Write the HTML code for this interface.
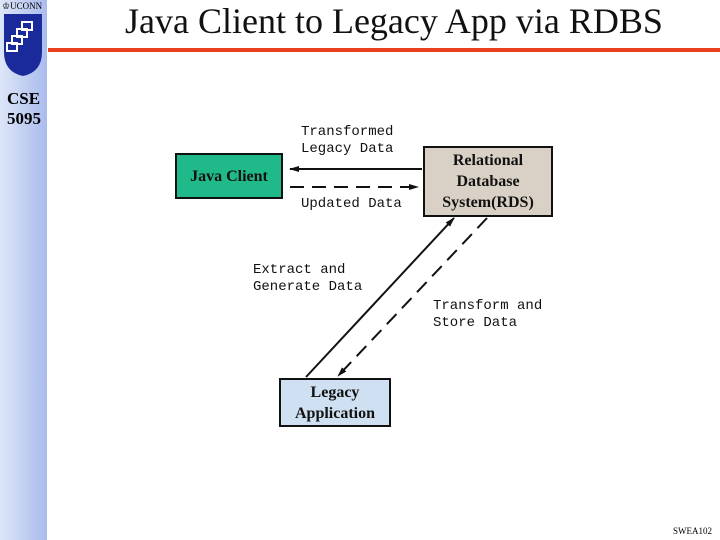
<!DOCTYPE html>
<html><head><style>
body{margin:0;width:720px;height:540px;position:relative;background:#fff;overflow:hidden;font-family:"Liberation Serif",serif}
.strip{position:absolute;left:0;top:0;width:47px;height:540px;background:linear-gradient(to right,#dde6f8,#b9c8f0 70%,#aabbee)}
.t{position:absolute;white-space:nowrap}
.mono{font-family:"Liberation Mono",monospace;font-size:14px;line-height:17px;color:#111}
.box{position:absolute;border:2px solid #111;box-sizing:border-box;display:flex;align-items:center;justify-content:center;text-align:center;font-weight:bold;font-size:16px;line-height:21px;color:#111}
</style></head><body>
<div class="strip"></div>
<div class="t" style="left:2px;top:1px;font-size:9px">♔UCONN</div>
<svg style="position:absolute;left:0;top:12px" width="48" height="66">
<path d="M4 2 H42 V40 Q42 60 23 64 Q4 60 4 40 Z" fill="#1a2a9a"/>
<rect x="22" y="10" width="10" height="8" fill="none" stroke="#fff" stroke-width="2"/>
<rect x="17" y="17" width="10" height="8" fill="none" stroke="#fff" stroke-width="2"/>
<rect x="12" y="24" width="10" height="8" fill="none" stroke="#fff" stroke-width="2"/>
<rect x="7" y="31" width="10" height="8" fill="none" stroke="#fff" stroke-width="2"/>
</svg>
<div class="t" style="left:7px;top:89px;font-size:17px;line-height:20px;font-weight:bold">CSE<br>5095</div>
<div class="t" style="left:125px;top:0px;font-size:36px;color:#111">Java Client to Legacy App via RDBS</div>
<div style="position:absolute;left:48px;top:48px;width:672px;height:4px;background:#e8401c"></div>
<div class="box" style="left:175px;top:153px;width:108px;height:46px;background:#20b98a">Java Client</div>
<div class="box" style="left:423px;top:146px;width:130px;height:71px;background:#d9d1c5">Relational<br>Database<br>System(RDS)</div>
<div class="box" style="left:279px;top:378px;width:112px;height:49px;background:#cfe0f2">Legacy<br>Application</div>
<div class="t mono" style="left:301px;top:124px">Transformed<br>Legacy Data</div>
<div class="t mono" style="left:301px;top:196px">Updated Data</div>
<div class="t mono" style="left:253px;top:262px">Extract and<br>Generate Data</div>
<div class="t mono" style="left:433px;top:298px">Transform and<br>Store Data</div>
<svg style="position:absolute;left:0;top:0" width="720" height="540">
<defs><marker id="a" markerWidth="10" markerHeight="8" refX="9" refY="4" orient="auto" markerUnits="userSpaceOnUse"><path d="M0 1 L10 4 L0 7 Z" fill="#111"/></marker></defs>
<g stroke="#111" stroke-width="2" fill="none">
<line x1="422" y1="169" x2="290" y2="169" marker-end="url(#a)"/>
<line x1="290" y1="187" x2="418" y2="187" stroke-dasharray="14,8" marker-end="url(#a)"/>
<line x1="306" y1="377" x2="454" y2="218" marker-end="url(#a)"/>
<line x1="487" y1="218" x2="338" y2="376" stroke-dasharray="14,8" marker-end="url(#a)"/>
</g></svg>
<div class="t" style="left:673px;top:526px;font-size:9px">SWEA102</div>
</body></html>
